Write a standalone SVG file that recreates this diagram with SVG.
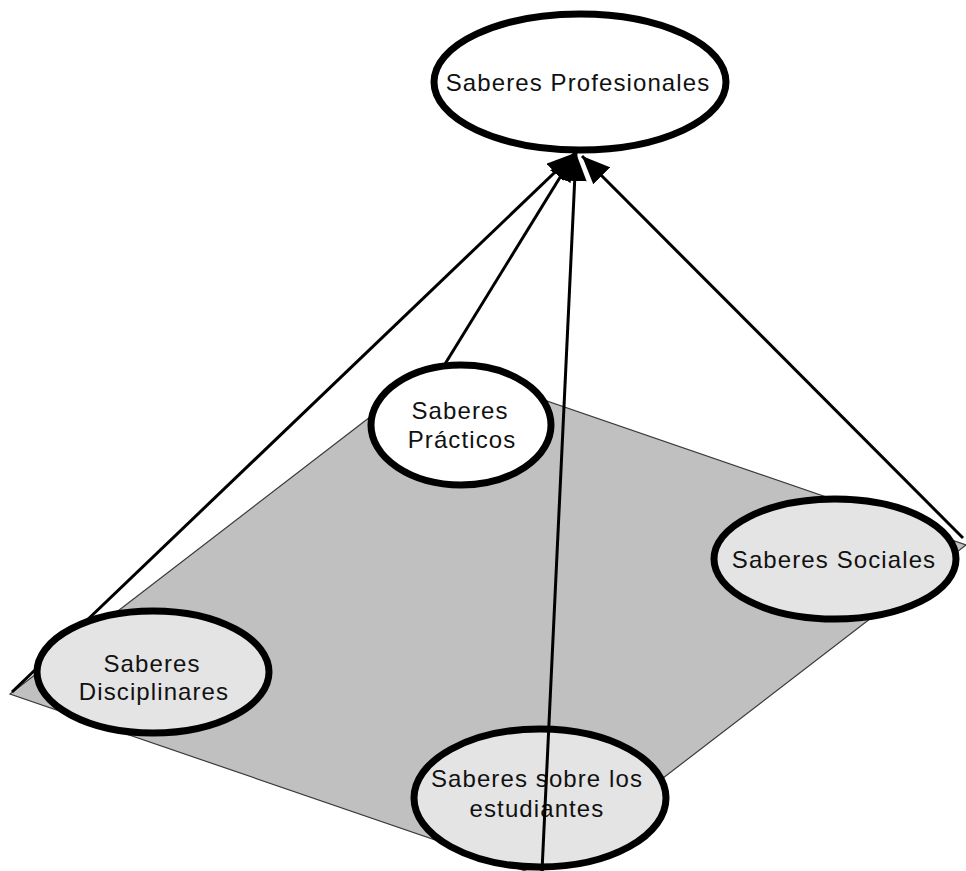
<svg xmlns="http://www.w3.org/2000/svg" width="966" height="871" viewBox="0 0 966 871">
  <style>
    .plane { fill: #c0c0c0; stroke: #3a3a3a; stroke-width: 1.2; }
    .node { stroke: #000; stroke-width: 7; }
    .white { fill: #ffffff; }
    .grey { fill: #e4e4e4; }
    .label { font-family: "Liberation Sans", Arial, sans-serif; font-size: 24px; letter-spacing: 1.1px; fill: #111; text-anchor: middle; }
    .link { stroke: #000; stroke-width: 3; fill: none; marker-end: url(#head); }
  </style>
  <defs>
    <marker id="head" markerUnits="userSpaceOnUse" markerWidth="30" markerHeight="24" refX="28" refY="12" orient="auto">
      <path d="M0,0 L28,12 L0,24 Z" fill="#000"/>
    </marker>
  </defs>

  <rect width="966" height="871" fill="#ffffff"/>

  <!-- ground plane -->
  <polygon class="plane" points="10,694 439,364 966,545 537,875"/>

  <g id="node-profesionales">
    <ellipse class="node white" cx="580" cy="82" rx="146" ry="68" stroke-width="6"/>
    <text class="label" x="578" y="91">Saberes Profesionales</text>
  </g>

  <g id="node-practicos">
    <ellipse class="node white" cx="461" cy="425" rx="90" ry="60" stroke-width="8"/>
    <text class="label" x="460" y="419">Saberes</text>
    <text class="label" x="462" y="448">Prácticos</text>
  </g>

  <g id="node-sociales">
    <ellipse class="node grey" cx="835" cy="559" rx="121" ry="60"/>
    <text class="label" x="834" y="568">Saberes Sociales</text>
  </g>

  <g id="node-estudiantes">
    <ellipse class="node grey" cx="540" cy="798" rx="126" ry="69"/>
    <text class="label" x="537" y="787">Saberes sobre los</text>
    <text class="label" x="537" y="817">estudiantes</text>
  </g>

  <g id="connectors">
    <line class="link" x1="12" y1="692" x2="575" y2="153"/>
    <line class="link" x1="445" y1="364" x2="575" y2="153"/>
    <line class="link" x1="542" y1="871" x2="576" y2="153"/>
    <line class="link" x1="963" y1="538" x2="582" y2="156"/>
  </g>

  <g id="node-disciplinares">
    <ellipse class="node grey" cx="153" cy="672" rx="116" ry="61"/>
    <text class="label" x="152" y="672">Saberes</text>
    <text class="label" x="154" y="700">Disciplinares</text>
  </g>
</svg>
